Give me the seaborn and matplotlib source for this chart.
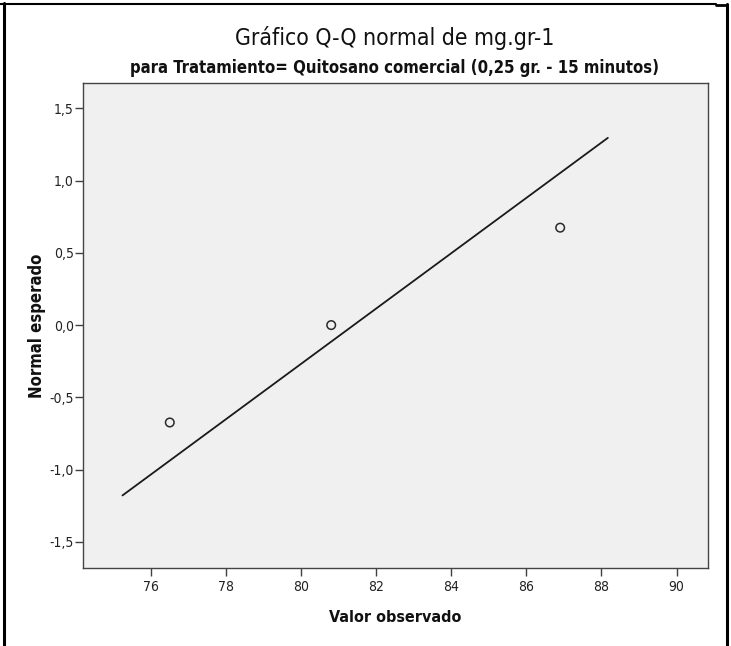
import numpy as np
import pandas as pd
import matplotlib
matplotlib.use("Agg")
import matplotlib.pyplot as plt
from matplotlib import font_manager
from matplotlib.lines import Line2D
from matplotlib.ticker import FixedLocator, FuncFormatter
import seaborn as sns

# Observed values and their expected normal scores
observed = [76.5, 80.8, 86.9]
expected = [-0.674, 0.0, 0.674]

# Extent of the reference normal line along the observed axis
line_x = [75.24, 88.17]

x_ticks = [76, 78, 80, 82, 84, 86, 88, 90]
y_ticks = [-1.5, -1.0, -0.5, 0.0, 0.5, 1.0, 1.5]

title = "Gráfico Q-Q normal de mg.gr-1"
subtitle = "para Tratamiento= Quitosano comercial (0,25 gr. - 15 minutos)"
x_label = "Valor observado"
y_label = "Normal esperado"

sns.set_theme(style="ticks")

# Prefer a narrow sans face when one is available
narrow = [f for f in font_manager.fontManager.ttflist
          if f.stretch in ("condensed", "semi-condensed")
          or "Narrow" in f.name or "Condensed" in f.name]
if narrow:
    plt.rcParams["font.family"] = [narrow[0].name, "Liberation Sans", "DejaVu Sans"]
    plt.rcParams["font.stretch"] = "condensed"
else:
    plt.rcParams["font.family"] = ["Liberation Sans", "DejaVu Sans"]

# Normal line from the sample mean and standard deviation
mu = np.mean(observed)
sd = np.std(observed, ddof=1)
line_df = pd.DataFrame({"x": line_x, "z": [(v - mu) / sd for v in line_x]})
pts = pd.DataFrame({"x": observed, "z": expected})

W, H = 731, 646
fig = plt.figure(figsize=(W / 100, H / 100), dpi=100, facecolor="white")
ax = fig.add_axes([82.7 / W, 1 - 568.3 / H, (707.7 - 82.7) / W, (568.3 - 83.3) / H])
ax.set_facecolor("#f0f0f0")

sns.lineplot(data=line_df, x="x", y="z", ax=ax, color="#1a1a1a", linewidth=1.3)
sns.scatterplot(data=pts, x="x", y="z", ax=ax, marker="o", s=38,
                facecolor="none", edgecolor="#2a2a2a", linewidth=1.1)

ax.set_xlim(74.18, 90.83)
ax.set_ylim(-1.683, 1.673)
ax.xaxis.set_major_locator(FixedLocator(x_ticks))
ax.yaxis.set_major_locator(FixedLocator(y_ticks))
ax.xaxis.set_major_formatter(FuncFormatter(lambda v, p: f"{v:.0f}"))
ax.yaxis.set_major_formatter(FuncFormatter(lambda v, p: f"{v:.1f}".replace(".", ",")))
ax.tick_params(axis="both", direction="out", length=5.5, width=1.0, color="#404040",
               labelsize=10, labelcolor="#222222")
ax.tick_params(axis="x", pad=3)
ax.tick_params(axis="y", pad=1)

for side in ["left", "right", "top", "bottom"]:
    ax.spines[side].set_visible(True)
    ax.spines[side].set_color("#444444")
    ax.spines[side].set_linewidth(1.0)

ax.set_xlabel(x_label, fontsize=11.5, fontweight="bold", color="#111111")
ax.set_ylabel(y_label, fontsize=12, fontweight="bold", color="#111111")
ax.xaxis.label.set_va("center")
ax.yaxis.label.set_va("center")
ax.xaxis.set_label_coords(0.5, (568.3 - 617) / (568.3 - 83.3))
ax.yaxis.set_label_coords((37 - 82.7) / (707.7 - 82.7), 0.5)

fig.text(395 / W, 1 - 38 / H, title, ha="center", va="center",
         fontsize=16.5, color="#111111")
fig.text(395 / W, 1 - 68 / H, subtitle, ha="center", va="center",
         fontsize=12, fontweight="bold", color="#111111")

# Frame around the output cell
fig.add_artist(Line2D([4 / W, 4 / W], [0, 1 - 3 / H], transform=fig.transFigure,
                      color="black", linewidth=2.2))
fig.add_artist(Line2D([0, 716 / W], [1 - 3.5 / H, 1 - 3.5 / H], transform=fig.transFigure,
                      color="black", linewidth=1.5))
fig.add_artist(Line2D([716 / W, 727 / W], [1 - 5 / H, 1 - 5 / H], transform=fig.transFigure,
                      color="black", linewidth=2.0))
fig.add_artist(Line2D([727 / W, 727 / W], [0, 1 - 4 / H], transform=fig.transFigure,
                      color="black", linewidth=2.2))

fig.savefig("out.png", dpi=100, facecolor="white")
